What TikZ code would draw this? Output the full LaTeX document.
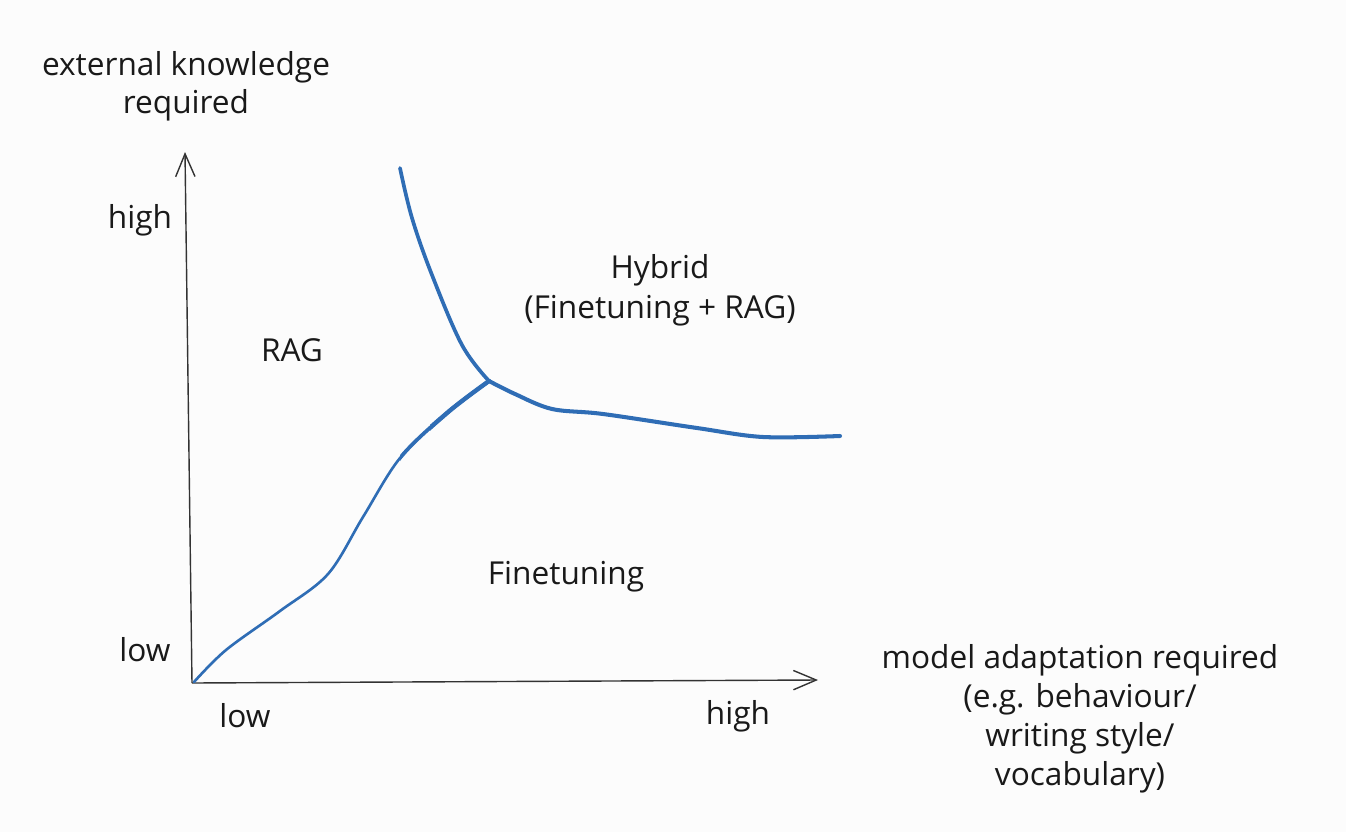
\documentclass[tikz,border=0pt]{standalone}
\usepackage{fontspec}
\setmainfont{Open Sans}
\usetikzlibrary{arrows.meta}
\definecolor{curveblue}{HTML}{2F6DB5}
\tikzset{
  axis/.style={line width=0.8pt, draw=black!80, -{Straight Barb[length=13pt,width=11pt]}},
  border/.style={draw=curveblue, line cap=round, line join=round},
  lbl/.style={font=\fontsize{18}{21.5}\selectfont, align=center, text=black!90}
}
\newcommand\ragline{plot[smooth, tension=0.55] coordinates {(194,682) (226,650) (280,611) (328,574) (363,517) (400,458) (447,413) (J)}}
\begin{document}
\begin{tikzpicture}[x=0.02cm,y=-0.02cm]
    \useasboundingbox[fill=white!99!black] (0,0) rectangle (1346,832);
    % axes
    \coordinate (O) at (192,683);
    \coordinate (ytop) at (185,152);
    \coordinate (xend) at (818,680);
    \draw[axis] (O) -- (ytop);
    \draw[axis] (O) -- (xend);
    % region borders
    \coordinate (J) at (489,381);
    \draw[border, line width=1.5pt] \ragline;
    \begin{scope}
      \clip (400,300) rectangle (500,470);
      \draw[border, line width=2.1pt] \ragline;
    \end{scope}
    \begin{scope}
      \clip (430,300) rectangle (500,470);
      \draw[border, line width=2.5pt] \ragline;
    \end{scope}
    \draw[border, line width=2.1pt] plot[smooth, tension=0.6] coordinates {(400,168) (412,218) (432,275) (462,345) (J)};
    \draw[border, line width=2.3pt] plot[smooth, tension=0.55] coordinates {(J) (515,394) (552,409) (603,414) (697,428) (763,437) (840,436)};
    % labels
    \node[lbl] (yname) at (186,86) {external knowledge\\required};
    \node[lbl] (yhigh) at (140,220) {high};
    \node[lbl] (ylow) at (145,650) {low};
    \node[lbl] (xlow) at (245,716) {low};
    \node[lbl] (xhigh) at (738,716) {high};
    \node[lbl, font=\fontsize{18}{22.3}\selectfont] (xname) at (1080,719) {model adaptation required\\(e.g. behaviour/\\writing style/\\vocabulary)};
    \node[lbl] (rag) at (292,350) {RAG};
    \node[lbl, font=\fontsize{18}{22.7}\selectfont] (hybrid) at (660,290) {Hybrid\\(Finetuning + RAG)};
    \node[lbl] (ft) at (566,577) {Finetuning};
\end{tikzpicture}
\end{document}
